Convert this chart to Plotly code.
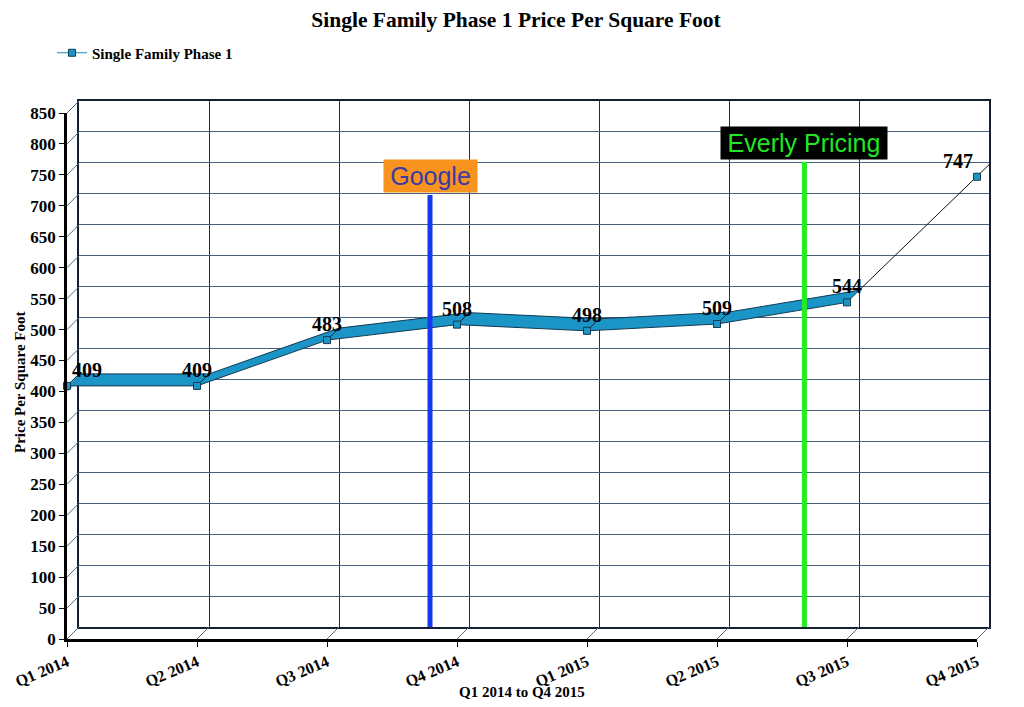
import plotly.graph_objects as go

# --- data ---
quarters = ["Q1 2014", "Q2 2014", "Q3 2014", "Q4 2014",
            "Q1 2015", "Q2 2015", "Q3 2015", "Q4 2015"]
price_sqft = [409, 409, 483, 508, 498, 509, 544, 747]
y_ticks = list(range(0, 851, 50))

# markers painted on the back wall: category position and height of the line
event_names = ["Google", "Everly Pricing"]
event_x = [2.70, 5.58]
event_top = [698, 752]
event_line = ["#1538f0", "#22ee22"]
event_bg = ["#f7931e", "#000000"]
event_font = ["#3a3aa8", "#22e622"]
event_box_w = [89, 162]

# --- geometry of the fake 3d box ---
# the page has an 8px body margin, so the figure is 8px smaller than the window
W, H = 1016, 699
L, R, T, B = 59, 35, 93, 68
DEPTH = 12                      # px offset of the back wall
PW, PH = W - L - R, H - T - B
n = len(quarters) - 1
ymax = y_ticks[-1]
px_cat = (PW - DEPTH) / n
px_val = (PH - DEPTH) / ymax
DX = DEPTH / px_cat
DV = DEPTH / px_val

SERIF = "Liberation Serif"
SANS = "Liberation Sans"
BAND = "#1b95c6"
EDGE = "#123a52"

fig = go.Figure()

# band (front edge -> back edge) for every segment up to Q3 2015
bx, by = [], []
for i in range(n - 1):
    v0, v1 = price_sqft[i], price_sqft[i + 1]
    bx += [i, i + 1, i + 1 + DX, i + DX, i, None]
    by += [v0, v1, v1 + DV, v0 + DV, v0, None]
fig.add_trace(go.Scatter(x=bx, y=by, mode="lines", fill="toself",
                         fillcolor=BAND, line=dict(color=EDGE, width=1),
                         hoverinfo="skip", showlegend=False,
                         xaxis="x2", yaxis="y2"))

# last segment is only a thin line on the back plane
fig.add_trace(go.Scatter(x=[n - 1 + DX, n + DX],
                         y=[price_sqft[-2] + DV, price_sqft[-1] + DV],
                         mode="lines", line=dict(color="#111111", width=1),
                         hoverinfo="skip", showlegend=False,
                         xaxis="x2", yaxis="y2"))

# depth connectors at every tick
dlx, dly = [], []
for v in y_ticks:
    dlx += [0, DX, None]
    dly += [v, v + DV, None]
for i in range(n + 1):
    dlx += [i, i + DX, None]
    dly += [0, DV, None]
fig.add_trace(go.Scatter(x=dlx, y=dly, mode="lines",
                         line=dict(color="#4f6a88", width=1),
                         hoverinfo="skip", showlegend=False,
                         xaxis="x2", yaxis="y2"))

# event lines on the back wall
for name, ex, top, col in zip(event_names, event_x, event_top, event_line):
    fig.add_trace(go.Scatter(x=[ex + DX, ex + DX], y=[DV, top + DV],
                             mode="lines", line=dict(color=col, width=5),
                             hoverinfo="skip", showlegend=False,
                             xaxis="x2", yaxis="y2"))

# data point markers
fig.add_trace(go.Scatter(x=list(range(n + 1)), y=price_sqft, mode="markers",
                         marker=dict(symbol="square", size=7, color=BAND,
                                     line=dict(color=EDGE, width=1)),
                         cliponaxis=False, showlegend=False,
                         text=quarters, hovertemplate="%{text}: %{y}<extra></extra>",
                         xaxis="x2", yaxis="y2"))

# legend entry
fig.add_trace(go.Scatter(x=[None], y=[None], mode="lines+markers",
                         name="Single Family Phase 1",
                         line=dict(color="#1b8ab8", width=1),
                         marker=dict(symbol="square", size=7, color=BAND,
                                     line=dict(color=EDGE, width=1)),
                         xaxis="x2", yaxis="y2"))

# dummies so the other two axis pairs get drawn
for ax in ["", "3"]:
    fig.add_trace(go.Scatter(x=[0], y=[0], mode="markers",
                             marker=dict(opacity=0), hoverinfo="skip",
                             showlegend=False, xaxis="x" + ax, yaxis="y" + ax))

annotations = []
label_shift = [20] + [0] * (n - 1) + [-19]
for i, v in enumerate(price_sqft):
    annotations.append(dict(x=i, y=v, xref="x2", yref="y2", text=str(v),
                            showarrow=False, xshift=label_shift[i], yshift=16,
                            yanchor="middle",
                            font=dict(family=SERIF, size=20, color="black",
                                      weight="bold")))
for name, ex, top, bg, fc, bw in zip(event_names, event_x, event_top,
                                     event_bg, event_font, event_box_w):
    annotations.append(dict(x=ex + DX, y=top + DV, xref="x2", yref="y2",
                            text=name, showarrow=False, yanchor="bottom",
                            yshift=2, bgcolor=bg, borderpad=2,
                            width=bw, height=28,
                            font=dict(family=SANS, size=25, color=fc)))

# axis titles
title_font = dict(family=SERIF, size=15, weight="bold", color="black")
annotations.append(dict(text="Q1 2014 to Q4 2015", xref="paper", yref="paper",
                        x=(514 - L) / PW, y=-(684 - (H - B)) / PH,
                        xanchor="center", yanchor="middle", showarrow=False,
                        font=title_font))
annotations.append(dict(text="Price Per Square Foot", xref="paper", yref="paper",
                        x=(12 - L) / PW, y=(H - B - 374) / PH, textangle=-90,
                        xanchor="center", yanchor="middle", showarrow=False,
                        font=title_font))

fx = DEPTH / PW
fy = DEPTH / PH
grid_h = "#46627f"
grid_v = "#1a2f4f"
wall_edge = "#15202e"

fig.update_layout(
    width=W, height=H,
    margin=dict(l=L, r=R, t=T, b=B, autoexpand=False),
    paper_bgcolor="white", plot_bgcolor="rgba(0,0,0,0)",
    font=dict(family=SERIF, color="black"),
    title=dict(text="Single Family Phase 1 Price Per Square Foot",
               x=0.5, xanchor="center", y=1 - 11 / H, yanchor="middle",
               font=dict(family=SERIF, size=21.5, weight="bold", color="black")),
    showlegend=True,
    legend=dict(xref="container", yref="container",
                x=44 / W, y=1 - 45 / H, xanchor="left", yanchor="middle",
                bgcolor="rgba(0,0,0,0)", itemwidth=30,
                font=dict(family=SERIF, size=15, weight="bold", color="black")),
    annotations=annotations,
    # back wall: grid and frame only
    xaxis=dict(domain=[fx, 1], range=[0, n], anchor="y",
               tickvals=list(range(n + 1)), showticklabels=False, ticks="",
               showgrid=True, gridcolor=grid_v, gridwidth=1, zeroline=False,
               showline=True, mirror=True, linecolor=wall_edge, linewidth=1.5),
    yaxis=dict(domain=[fy, 1], range=[0, ymax], anchor="x",
               tickvals=y_ticks, showticklabels=False, ticks="",
               showgrid=True, gridcolor=grid_h, gridwidth=1, zeroline=False,
               showline=True, mirror=True, linecolor=wall_edge, linewidth=1.5),
    # carrier axes for the marks, covering front and back
    xaxis2=dict(domain=[0, 1], range=[0, n + DX], anchor="y2", visible=False),
    yaxis2=dict(domain=[0, 1], range=[0, ymax + DV], anchor="x2", visible=False),
    # front axes: lines, ticks and labels
    xaxis3=dict(domain=[0, 1 - fx], range=[0, n], anchor="y3",
                tickvals=list(range(n + 1)), ticktext=quarters, tickangle=-23,
                ticks="outside", ticklen=5, tickcolor="black",
                showgrid=False, zeroline=False, automargin=False,
                showline=True, linecolor="black", linewidth=2.5,
                tickfont=dict(family=SERIF, size=16, weight="bold", color="black")),
    yaxis3=dict(domain=[0, 1 - fy], range=[0, ymax], anchor="x3",
                tickvals=y_ticks, ticks="outside", ticklen=5, tickcolor="black",
                showgrid=False, zeroline=False, automargin=False,
                showline=True, linecolor="black", linewidth=2.5,
                tickfont=dict(family=SERIF, size=17, weight="bold", color="black")),
)

fig.write_html("out.html")
